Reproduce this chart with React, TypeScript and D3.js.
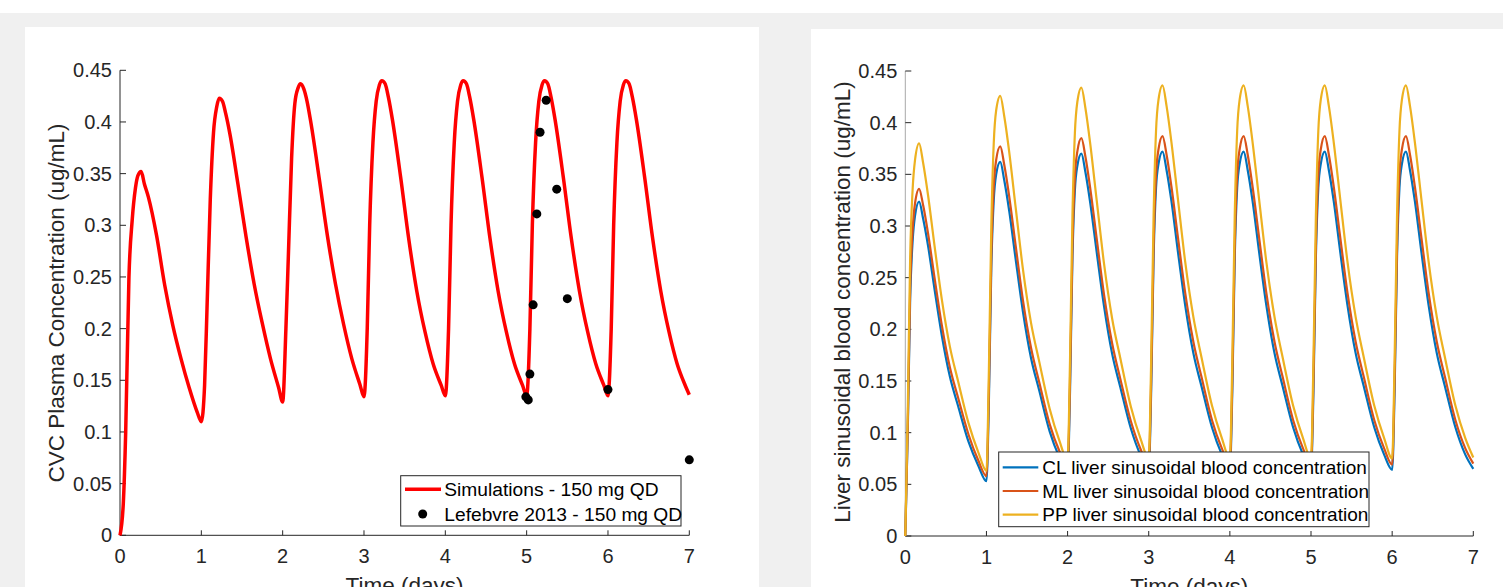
import React from 'react';
import * as d3 from 'd3';

// ---- data ----
const days = [0, 1, 2, 3, 4, 5, 6];
const xTicks = [0, 1, 2, 3, 4, 5, 6, 7];
const yTicks = [0, 0.05, 0.1, 0.15, 0.2, 0.25, 0.3, 0.35, 0.4, 0.45];
const yTickLabels = ['0', '0.05', '0.1', '0.15', '0.2', '0.25', '0.3', '0.35', '0.4', '0.45'];

// left panel: simulated plasma concentration, sampled at day + offset
const simOffsets = [0, 0.04, 0.07, 0.11, 0.15, 0.19, 0.22, 0.26, 0.3, 0.35, 0.45, 0.55, 0.65, 0.75, 0.85, 0.95];
const simByDay = [
  [0, 0.03, 0.1, 0.25, 0.305, 0.336, 0.348, 0.352, 0.34, 0.327, 0.29, 0.242, 0.203, 0.171, 0.143, 0.119],
  [0.11, 0.145, 0.22, 0.325, 0.39, 0.415, 0.423, 0.42, 0.408, 0.389, 0.34, 0.289, 0.243, 0.205, 0.171, 0.143],
  [0.129, 0.2, 0.27, 0.365, 0.418, 0.433, 0.437, 0.432, 0.42, 0.398, 0.345, 0.29, 0.243, 0.204, 0.171, 0.146],
  [0.134, 0.2, 0.3, 0.38, 0.42, 0.436, 0.44, 0.437, 0.424, 0.402, 0.347, 0.287, 0.236, 0.197, 0.166, 0.145],
  [0.135, 0.2, 0.3, 0.38, 0.42, 0.436, 0.44, 0.437, 0.424, 0.402, 0.347, 0.287, 0.236, 0.197, 0.166, 0.145],
  [0.135, 0.2, 0.3, 0.38, 0.42, 0.436, 0.44, 0.437, 0.424, 0.402, 0.347, 0.287, 0.236, 0.197, 0.166, 0.145],
  [0.135, 0.2, 0.3, 0.38, 0.42, 0.436, 0.44, 0.437, 0.424, 0.402, 0.347, 0.287, 0.236, 0.197, 0.166, 0.145],
];
const simEnd = 0.136;

const obsTime = [4.99, 5.02, 5.04, 5.08, 5.125, 5.165, 5.24, 5.37, 5.5, 6.0, 7.0];
const obsConc = [0.134, 0.131, 0.156, 0.223, 0.311, 0.39, 0.421, 0.335, 0.229, 0.141, 0.073];

// right panel: liver sinusoidal blood concentration
const liverOffsets = [0, 0.03, 0.06, 0.09, 0.12, 0.17, 0.22, 0.28, 0.36, 0.45, 0.55, 0.65, 0.78, 0.9];
const clByDay = [
  [0, 0.1, 0.23, 0.285, 0.31, 0.3235, 0.307, 0.281, 0.239, 0.194, 0.154, 0.126, 0.091, 0.068],
  [0.053, 0.13, 0.26, 0.325, 0.35, 0.362, 0.344, 0.315, 0.268, 0.217, 0.172, 0.141, 0.101, 0.076],
  [0.062, 0.14, 0.27, 0.335, 0.358, 0.37, 0.352, 0.322, 0.274, 0.222, 0.176, 0.144, 0.104, 0.078],
  [0.064, 0.14, 0.27, 0.337, 0.36, 0.372, 0.354, 0.324, 0.275, 0.223, 0.177, 0.145, 0.105, 0.079],
  [0.064, 0.14, 0.27, 0.337, 0.36, 0.372, 0.354, 0.324, 0.275, 0.223, 0.177, 0.145, 0.105, 0.079],
  [0.064, 0.14, 0.27, 0.337, 0.36, 0.372, 0.354, 0.324, 0.275, 0.223, 0.177, 0.145, 0.105, 0.079],
  [0.064, 0.14, 0.27, 0.337, 0.36, 0.372, 0.354, 0.324, 0.275, 0.223, 0.177, 0.145, 0.105, 0.079],
];
const clEnd = 0.065;
const mlByDay = [
  [0, 0.105, 0.24, 0.296, 0.322, 0.336, 0.32, 0.293, 0.25, 0.204, 0.163, 0.134, 0.098, 0.073],
  [0.058, 0.14, 0.27, 0.338, 0.364, 0.377, 0.359, 0.329, 0.281, 0.228, 0.182, 0.149, 0.108, 0.082],
  [0.067, 0.15, 0.28, 0.348, 0.372, 0.385, 0.367, 0.336, 0.287, 0.233, 0.186, 0.152, 0.111, 0.084],
  [0.069, 0.15, 0.28, 0.35, 0.374, 0.387, 0.369, 0.338, 0.289, 0.235, 0.188, 0.154, 0.112, 0.085],
  [0.069, 0.15, 0.28, 0.35, 0.374, 0.387, 0.369, 0.338, 0.289, 0.235, 0.188, 0.154, 0.112, 0.085],
  [0.069, 0.15, 0.28, 0.35, 0.374, 0.387, 0.369, 0.338, 0.289, 0.235, 0.188, 0.154, 0.112, 0.085],
  [0.069, 0.15, 0.28, 0.35, 0.374, 0.387, 0.369, 0.338, 0.289, 0.235, 0.188, 0.154, 0.112, 0.085],
];
const mlEnd = 0.07;
const ppByDay = [
  [0, 0.12, 0.27, 0.335, 0.364, 0.38, 0.361, 0.33, 0.281, 0.229, 0.183, 0.15, 0.109, 0.081],
  [0.063, 0.16, 0.3, 0.38, 0.412, 0.426, 0.406, 0.372, 0.318, 0.258, 0.206, 0.169, 0.123, 0.092],
  [0.073, 0.17, 0.31, 0.39, 0.42, 0.434, 0.414, 0.379, 0.324, 0.263, 0.21, 0.172, 0.125, 0.094],
  [0.075, 0.17, 0.31, 0.392, 0.422, 0.436, 0.416, 0.381, 0.326, 0.265, 0.212, 0.173, 0.126, 0.095],
  [0.075, 0.17, 0.31, 0.392, 0.422, 0.436, 0.416, 0.381, 0.326, 0.265, 0.212, 0.173, 0.126, 0.095],
  [0.075, 0.17, 0.31, 0.392, 0.422, 0.436, 0.416, 0.381, 0.326, 0.265, 0.212, 0.173, 0.126, 0.095],
  [0.075, 0.17, 0.31, 0.392, 0.422, 0.436, 0.416, 0.381, 0.326, 0.265, 0.212, 0.173, 0.126, 0.095],
];
const ppEnd = 0.076;

const FONT = '"Liberation Sans", Arial, Helvetica, sans-serif';
const INK = '#262626';

type Pt = [number, number];

function toPoints(offsets: number[], byDay: number[][], end: number): Pt[] {
  const pts: Pt[] = [];
  days.forEach((d, i) => {
    offsets.forEach((o, j) => pts.push([d + o, byDay[i][j]]));
  });
  pts.push([7, end]);
  return pts;
}

function Axes({ x, y, yLineColor }: { x: d3.ScaleLinear<number, number>; y: d3.ScaleLinear<number, number>; yLineColor: string }) {
  const [x0, x1] = x.range();
  const [y0, y1] = y.range();
  return (
    <g fontFamily={FONT} fill={INK}>
      <line x1={x0} x2={x1} y1={y0} y2={y0} stroke={INK} strokeWidth={1} />
      <line x1={x0} x2={x0} y1={y0} y2={y1} stroke={yLineColor} strokeWidth={1} />
      {xTicks.map((t) => (
        <g key={'x' + t}>
          <line x1={x(t)} x2={x(t)} y1={y0} y2={y0 - 5} stroke={INK} />
          <text x={x(t)} y={y0 + 28} textAnchor="middle" fontSize={20}>{t}</text>
        </g>
      ))}
      {yTicks.map((t, i) => (
        <g key={'y' + t}>
          <line x1={x0} x2={x0 + 6} y1={y(t)} y2={y(t)} stroke={INK} />
          <text x={x0 - 8} y={y(t)} dy="0.35em" textAnchor="end" fontSize={20}>{yTickLabels[i]}</text>
        </g>
      ))}
    </g>
  );
}

export default function App() {
  const W = 1503;
  const H = 587;

  const xL = d3.scaleLinear().domain([0, 7]).range([120, 689.3]);
  const yL = d3.scaleLinear().domain([0, 0.45]).range([535.3, 70.3]);
  const xR = d3.scaleLinear().domain([0, 7]).range([905.3, 1473.3]);
  const yR = d3.scaleLinear().domain([0, 0.45]).range([536, 71]);

  const lineL = d3.line<Pt>().x((d) => xL(d[0])).y((d) => yL(d[1])).curve(d3.curveMonotoneX);
  const lineR = d3.line<Pt>().x((d) => xR(d[0])).y((d) => yR(d[1])).curve(d3.curveMonotoneX);

  const sim = toPoints(simOffsets, simByDay, simEnd);
  const liver = [
    { name: 'CL liver sinusoidal blood concentration', color: '#0072BD', pts: toPoints(liverOffsets, clByDay, clEnd) },
    { name: 'ML liver sinusoidal blood concentration', color: '#D95319', pts: toPoints(liverOffsets, mlByDay, mlEnd) },
    { name: 'PP liver sinusoidal blood concentration', color: '#EDB120', pts: toPoints(liverOffsets, ppByDay, ppEnd) },
  ];

  return (
    <svg width={W} height={H} style={{ position: 'absolute', left: 0, top: 0, display: 'block' }}>
      <rect x={0} y={0} width={W} height={H} fill="#ffffff" />
      <rect x={0} y={13} width={W} height={H - 13} fill="#f0f0f0" />
      <rect x={25} y={27} width={734} height={H - 27} fill="#ffffff" />
      <rect x={811} y={29} width={W - 811} height={H - 29} fill="#ffffff" />

      {/* left panel */}
      <Axes x={xL} y={yL} yLineColor={INK} />
      <path d={lineL(sim) || ''} fill="none" stroke="#ff0000" strokeWidth={3.5} strokeLinejoin="round" />
      {obsTime.map((t, i) => (
        <circle key={i} cx={xL(t)} cy={yL(obsConc[i])} r={4.5} fill="#000" />
      ))}
      <text x={404.5} y={593} textAnchor="middle" fontFamily={FONT} fontSize={22.5} fill={INK}>Time (days)</text>
      <text transform="translate(63.5,303) rotate(-90)" textAnchor="middle" fontFamily={FONT} fontSize={22.5} fill={INK}>
        CVC Plasma Concentration (ug/mL)
      </text>
      <g fontFamily={FONT} fontSize={19.2} fill="#000">
        <rect x={400.7} y={475.7} width={280.3} height={50.3} fill="#fff" stroke={INK} strokeWidth={1} />
        <line x1={405} x2={441} y1={489.3} y2={489.3} stroke="#ff0000" strokeWidth={3.5} />
        <text x={444.3} y={489.3} dy="0.35em">Simulations - 150 mg QD</text>
        <circle cx={422.7} cy={514} r={4.5} fill="#000" />
        <text x={444.3} y={514} dy="0.35em">Lefebvre 2013 - 150 mg QD</text>
      </g>

      {/* right panel */}
      <Axes x={xR} y={yR} yLineColor="#a8a8a8" />
      {liver.map((s) => (
        <path key={s.name} d={lineR(s.pts) || ''} fill="none" stroke={s.color} strokeWidth={2.2} strokeLinejoin="round" />
      ))}
      <text x={1189.3} y={594} textAnchor="middle" fontFamily={FONT} fontSize={22.5} fill={INK}>Time (days)</text>
      <text transform="translate(850,302) rotate(-90)" textAnchor="middle" fontFamily={FONT} fontSize={22.5} fill={INK}>
        Liver sinusoidal blood concentration (ug/mL)
      </text>
      <g fontFamily={FONT} fontSize={19} fill="#000">
        <rect x={998.7} y={452} width={370.3} height={74.7} fill="#fff" stroke={INK} strokeWidth={1} />
        {liver.map((s, i) => {
          const cy = 467.3 + i * 23.7;
          return (
            <g key={s.name}>
              <line x1={1002.7} x2={1038.3} y1={cy} y2={cy} stroke={s.color} strokeWidth={2.2} />
              <text x={1042.3} y={cy} dy="0.35em">{s.name}</text>
            </g>
          );
        })}
      </g>
    </svg>
  );
}
